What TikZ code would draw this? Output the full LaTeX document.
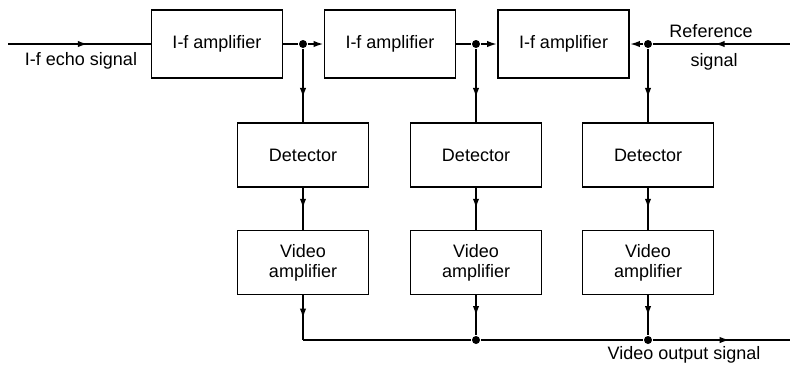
\documentclass[tikz,border=0pt]{standalone}
\usepackage{fontspec}
\setmainfont{Liberation Sans}
\usetikzlibrary{arrows.meta,decorations.markings}

\begin{document}
\begin{tikzpicture}[x=0.5pt,y=-0.5pt,>={Latex[length=5pt,width=3.2pt]},line width=0.9pt,
    blk/.style={draw,minimum width=65.5pt,minimum height=32pt,inner sep=1pt,align=center,
      font=\fontsize{9}{10}\selectfont},
    lbl/.style={font=\fontsize{9}{10}\selectfont,inner sep=0pt},
    jdot/.style={circle,fill,inner sep=0pt,minimum size=4pt},
    midarrow/.style={postaction={decorate},decoration={markings,
      mark=at position #1 with {\arrow{Latex[length=5pt,width=3.2pt]}}}},
    midarrow/.default=0.55]
    \useasboundingbox (0,0) rectangle (790,366);
    % Zwischenfrequenzkette oben
    \node[blk,minimum height=34pt] (amp1) at (217,44) {I-f amplifier};
    \node[blk,minimum height=34pt] (amp2) at (390,44) {I-f amplifier};
    \node[blk,minimum height=34pt] (amp3) at (563.5,44) {I-f amplifier};
    % Detektoren und Videoverstaerker, je einer pro Stufe
    \node[blk] (det1) at (303,155) {Detector};
    \node[blk] (det2) at (476,155) {Detector};
    \node[blk] (det3) at (648,155) {Detector};
    \node[blk] (vid1) at (303,262.5) {Video\\amplifier};
    \node[blk] (vid2) at (476,262.5) {Video\\amplifier};
    \node[blk] (vid3) at (648,262.5) {Video\\amplifier};
    % Knotenpunkte
    \node[jdot] (j1) at (303,44) {};
    \node[jdot] (j2) at (476,44) {};
    \node[jdot] (j3) at (648,44) {};
    \node[jdot] (b2) at (476,340) {};
    \node[jdot] (b3) at (648,340) {};
    \coordinate (c1) at (303,340);
    \coordinate (echoin) at (8,44);
    \coordinate (refin) at (790,44);
    \coordinate (vout) at (790,340);
    % Signalwege
    \draw[midarrow=0.56] (echoin) -- (amp1);
    \draw (amp1) -- (j1);
    \draw[->] (j1) -- (amp2);
    \draw (amp2) -- (j2);
    \draw[->] (j2) -- (amp3);
    \draw[midarrow=0.55] (refin) -- (j3);
    \draw[->] (j3) -- (amp3);
    \foreach \i in {1,2,3}{
      \draw[midarrow=0.67] (j\i) -- (det\i);
      \draw[midarrow=0.5] (det\i) -- (vid\i);
    }
    \draw[midarrow=0.52] (vid1) -- (c1);
    \draw[midarrow=0.52] (vid2) -- (b2);
    \draw[midarrow=0.52] (vid3) -- (b3);
    \draw (c1) -- (b2) -- (b3);
    \draw[midarrow=0.56] (b3) -- (vout);
    % Beschriftungen
    \node[lbl] (lblecho) at (81,61) {I-f echo signal};
    \node[lbl] (lblref) at (711,31) {Reference};
    \node[lbl] (lblsig) at (714,62) {signal};
    \node[lbl] (lblout) at (684,355) {Video output signal};
\end{tikzpicture}
\end{document}
